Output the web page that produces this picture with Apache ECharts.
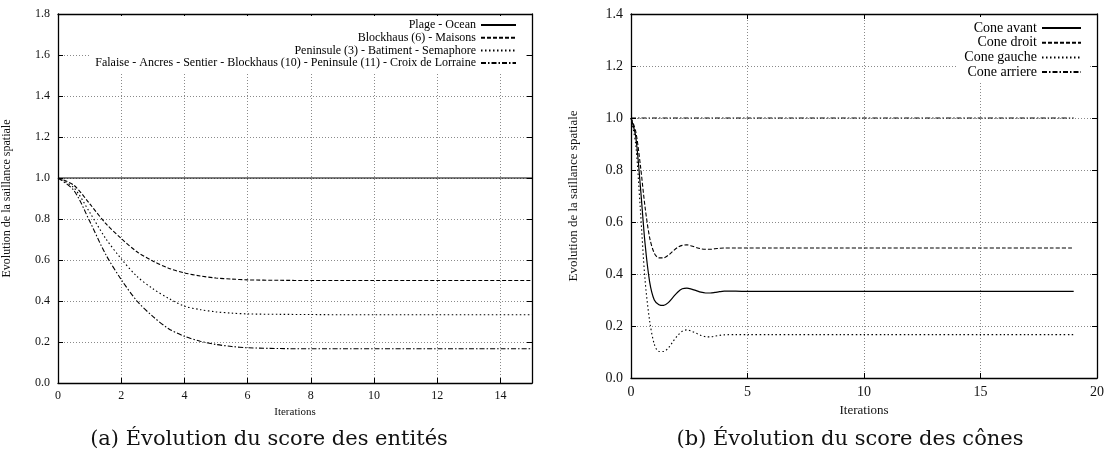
<!DOCTYPE html>
<html>
<head>
<meta charset="utf-8">
<script src="https://cdn.jsdelivr.net/npm/echarts@6/dist/echarts.min.js"></script>
<style>
html,body{margin:0;padding:0;background:#fff;}
#c{width:1108px;height:464px;}
</style>
</head>
<body>
<div id="c"></div>
<script>
// ---- Chart (a): entities ----
const xEntities = [0,0.5,1,1.5,2,2.5,3,3.5,4,4.5,5,5.5,6,7,8,9,10,11,12,13,14,15];
const namesEntities = [
  'Plage - Ocean',
  'Blockhaus (6) - Maisons',
  'Peninsule (3) - Batiment - Semaphore',
  'Falaise - Ancres - Sentier - Blockhaus (10) - Peninsule (11) - Croix de Lorraine'
];
const plageOcean = [1,1,1,1,1,1,1,1,1,1,1,1,1,1,1,1,1,1,1,1,1,1];
const blockhausMaisons = [1.0,0.965,0.875,0.78,0.705,0.64,0.595,0.56,0.537,0.522,0.512,0.507,0.503,0.501,0.5,0.5,0.5,0.5,0.5,0.5,0.5,0.5];
const peninsuleSemaphore = [1.0,0.953,0.833,0.707,0.606,0.52,0.46,0.413,0.375,0.358,0.347,0.341,0.337,0.335,0.334,0.333,0.333,0.333,0.333,0.333,0.333,0.333];
const falaiseLorraine = [1.0,0.94,0.79,0.63,0.505,0.40,0.325,0.265,0.228,0.204,0.188,0.178,0.172,0.168,0.167,0.167,0.167,0.167,0.167,0.167,0.167,0.167];

// ---- Chart (b): cones ----
const xCones = [0,0.2,0.4,0.6,0.8,1.0,1.2,1.4,1.6,1.8,2.0,2.2,2.4,2.6,2.8,3.0,3.2,3.4,3.6,3.8,4.0,4.5,5,6,7,8,9,10,11,12,13,14,15,16,17,18,19];
const namesCones = ['Cone avant','Cone droit','Cone gauche','Cone arriere'];
const coneAvant  = [1.0,0.93,0.74,0.52,0.37,0.30,0.282,0.279,0.29,0.31,0.33,0.343,0.346,0.342,0.336,0.330,0.327,0.327,0.329,0.332,0.334,0.334,0.333,0.333,0.333,0.333,0.333,0.333,0.333,0.333,0.333,0.333,0.333,0.333,0.333,0.333,0.333];
const coneDroit  = [1.0,0.95,0.82,0.66,0.54,0.48,0.462,0.462,0.472,0.488,0.502,0.51,0.512,0.508,0.502,0.497,0.495,0.495,0.497,0.499,0.5,0.5,0.5,0.5,0.5,0.5,0.5,0.5,0.5,0.5,0.5,0.5,0.5,0.5,0.5,0.5,0.5];
const coneGauche = [1.0,0.90,0.65,0.38,0.22,0.13,0.102,0.102,0.115,0.14,0.163,0.18,0.185,0.18,0.172,0.164,0.159,0.158,0.161,0.164,0.166,0.167,0.167,0.167,0.167,0.167,0.167,0.167,0.167,0.167,0.167,0.167,0.167,0.167,0.167,0.167,0.167];
const coneArriere = [1,1,1,1,1,1,1,1,1,1,1,1,1,1,1,1,1,1,1,1,1,1,1,1,1,1,1,1,1,1,1,1,1,1,1,1,1];

const yTitle = 'Evolution de la saillance spatiale';
const xTitle = 'Iterations';
const captionA = '(a) Évolution du score des entités';
const captionB = '(b) Évolution du score des cônes';

const FONT = 'Liberation Serif';
const CAPFONT = 'DejaVu Serif';
const styles = [
  {type:'solid', width:1.2},
  {type:[4,2], width:1.1},
  {type:[1.5,2.5], width:1.1},
  {type:[5,2,1.5,2], width:1.1}
];
function pairs(xs, ys){ return xs.map((x,i)=>[x, ys[i]]); }

const gridLine = {show:true, lineStyle:{color:'#8a8a8a', type:[1,2], width:1}};
const axisLine = {show:true, onZero:false, lineStyle:{color:'#000', width:1.3}};

function xAxes(gi, max, interval, fs, gap){
  return [
    {gridIndex:gi, type:'value', min:0, max:max, interval:interval, position:'bottom',
     axisLine:axisLine, axisTick:{show:true, inside:true, length:5, lineStyle:{color:'#000'}},
     splitLine:gridLine,
     axisLabel:{color:'#111', fontFamily:FONT, fontSize:fs, margin:7, showMaxLabel: max % interval === 0},
     name:xTitle, nameLocation:'middle', nameGap:gap, nameTextStyle:{color:'#111', fontFamily:FONT, fontSize:fs-1}},
    {gridIndex:gi, type:'value', min:0, max:max, interval:interval, position:'top',
     axisLine:axisLine, axisTick:{show:true, inside:true, length:5, lineStyle:{color:'#000'}},
     splitLine:{show:false}, axisLabel:{show:false}}
  ];
}
function yAxes(gi, max, fs, gap, tfs){
  return [
    {gridIndex:gi, type:'value', min:0, max:max, interval:0.2, position:'left',
     axisLine:axisLine, axisTick:{show:true, inside:true, length:5, lineStyle:{color:'#000'}},
     splitLine:gridLine,
     axisLabel:{color:'#111', fontFamily:FONT, fontSize:fs, margin:8, formatter:v=>v.toFixed(1)},
     name:yTitle, nameLocation:'middle', nameGap:gap, nameRotate:90,
     nameTextStyle:{color:'#111', fontFamily:FONT, fontSize:tfs}},
    {gridIndex:gi, type:'value', min:0, max:max, interval:0.2, position:'right',
     axisLine:axisLine, axisTick:{show:true, inside:true, length:5, lineStyle:{color:'#000'}},
     splitLine:{show:false}, axisLabel:{show:false}}
  ];
}

const entSeries = [plageOcean, blockhausMaisons, peninsuleSemaphore, falaiseLorraine];
const coneSeries = [coneAvant, coneDroit, coneGauche, coneArriere];

const series = [];
entSeries.forEach((ys,i)=>series.push({
  name:namesEntities[i], type:'line', xAxisIndex:0, yAxisIndex:0,
  data:pairs(xEntities, ys), smooth:0.3, symbol:'none', showSymbol:false,
  lineStyle:Object.assign({color:'#000'}, styles[i]), itemStyle:{color:'#000'}, z:3
}));
coneSeries.forEach((ys,i)=>series.push({
  name:namesCones[i], type:'line', xAxisIndex:2, yAxisIndex:2,
  data:pairs(xCones, ys), smooth:0.3, symbol:'none', showSymbol:false,
  lineStyle:Object.assign({color:'#000'}, styles[i]), itemStyle:{color:'#000'}, z:3
}));

const chart = echarts.init(document.getElementById('c'), null, {renderer:'canvas'});
chart.setOption({
  backgroundColor:'#fff',
  animation:false,
  grid:[
    {left:57, top:14, width:475, height:369},
    {left:631, top:14, width:466, height:364}
  ],
  xAxis:[...xAxes(0, 15, 2, 12, 20), ...xAxes(1, 20, 5, 14, 21)],
  yAxis:[...yAxes(0, 1.8, 12, 45, 12), ...yAxes(1, 1.4, 14, 51, 13)],
  legend:[
    {data:namesEntities, orient:'vertical', align:'right', right:583, top:16,
     itemWidth:35, itemHeight:10, itemGap:0.7, padding:[3,8,4,6],
     backgroundColor:'#fff', itemStyle:{opacity:0},
     textStyle:{color:'#000', fontFamily:FONT, fontSize:12, lineHeight:12}},
    {data:namesCones, orient:'vertical', align:'right', right:18, top:17,
     itemWidth:39, itemHeight:10, itemGap:0.7, padding:[4,8,4,8],
     backgroundColor:'#fff', itemStyle:{opacity:0},
     textStyle:{color:'#000', fontFamily:FONT, fontSize:14, lineHeight:14}}
  ],
  graphic:[
    {type:'text', x:269, y:440, style:{text:captionA, align:'center', verticalAlign:'middle', textAlign:'center', textVerticalAlign:'middle', fontFamily:CAPFONT, fontSize:21, fill:'#111'}},
    {type:'text', x:850, y:440, style:{text:captionB, align:'center', verticalAlign:'middle', textAlign:'center', textVerticalAlign:'middle', fontFamily:CAPFONT, fontSize:21, fill:'#111'}}
  ],
  series:series
});
</script>
</body>
</html>
